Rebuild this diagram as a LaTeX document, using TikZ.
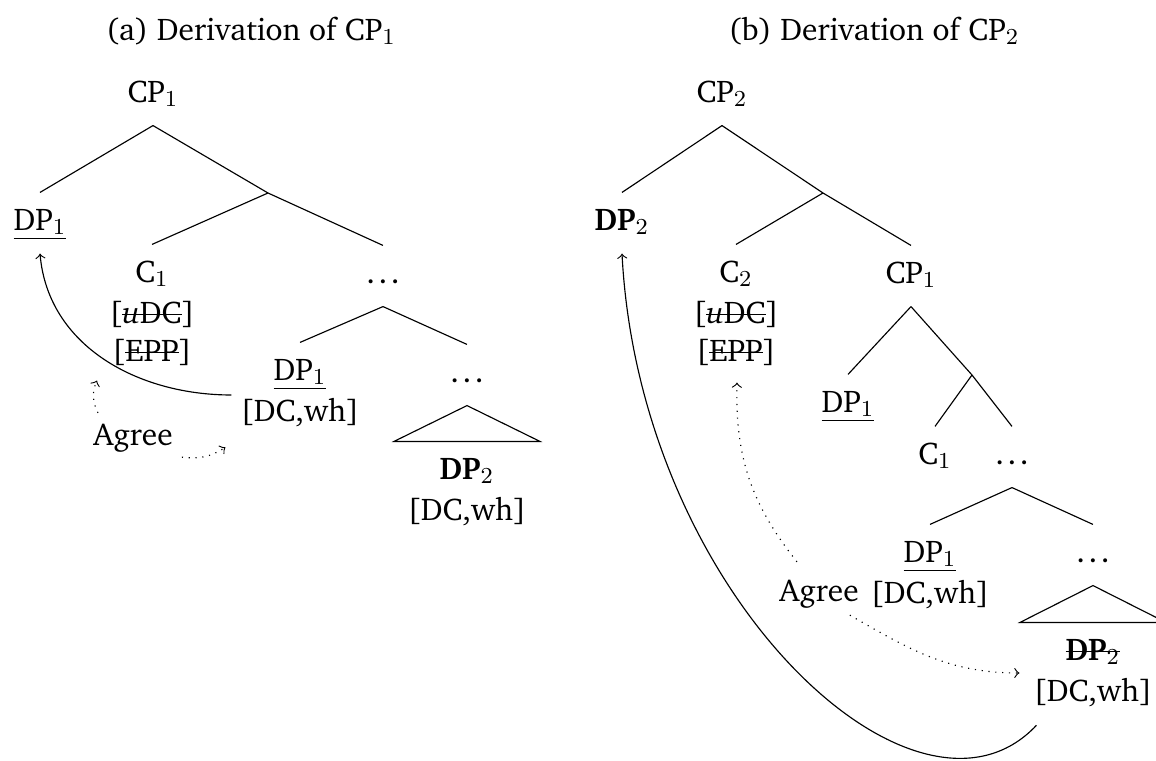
\documentclass[tikz,border=0pt]{standalone}
\usepackage[T1]{fontenc}
\usepackage{charter}
\usetikzlibrary{positioning}
\newcommand{\strk}[1]{{\setbox0=\hbox{#1}\rlap{\rule[0.55ex]{\wd0}{0.4pt}}\box0}}
\newcommand{\ddd}{.\kern1.2pt.\kern1.2pt.}
\tikzstyle{cat} = [inner xsep=2pt, inner ysep=5.5pt, text height=7.5pt, text depth=2.5pt]
\tikzstyle{feat} = [inner xsep=3pt, inner ysep=1.5pt, text height=7.5pt, text depth=2.5pt]
\tikzstyle{title} = [inner sep=0pt]
\tikzstyle{arrow} = [->]
\tikzstyle{agree} = [->, dotted]

\begin{document}
\begin{tikzpicture}[x=0.35pt, y=-0.35pt, font=\fontsize{11}{13}\selectfont]
    \useasboundingbox (0,0) rectangle (1156,761);

    % Titles
    \node[title] (ta) at (251,31) {(a) Derivation of CP$_1$};
    \node[title] (tb) at (874,31) {(b) Derivation of CP$_2$};

    % Tree (a)
    \node[cat] (lcp) at (153,95) {CP$_1$};
    \node[cat] (ldp) at (40,223) {\underline{DP$_1$}};
    \coordinate (lx) at (268,193);
    \node[cat] (lc) at (152,275) {C$_1$};
    \node[feat, below=-3pt of lc] (lfc) {[\strk{\textit{u}DC}]};
    \node[feat, below=0pt of lfc] (lepp) {[\strk{EPP}]};
    \node[cat] (ldots) at (383,276) {\ddd};
    \node[cat] (ldpb) at (300,373) {\underline{DP$_1$}};
    \node[feat, below=-3pt of ldpb] (lfb) {[DC,wh]};
    \node[cat] (ldots2) at (467,375) {\ddd};
    \node[cat] (ldp2) at (467,472) {\textbf{DP}$_2$};
    \node[feat, below=-3pt of ldp2] (lfd) {[DC,wh]};
    \node[feat] (lag) at (133,438) {Agree};

    % Branches (a)
    \draw (lcp.south) -- (ldp.north);
    \draw (lcp.south) -- (lx) -- (ldots.north);
    \draw (lx) -- (lc.north);
    \draw (ldots.south) -- (ldpb.north);
    \draw (ldots.south) -- (ldots2.north);
    \draw (ldots2.south) -- ([shift={(-73,0)}]ldp2.north) -- ([shift={(73,0)}]ldp2.north) -- cycle;

    % Movement and Agree (a)
    \draw[arrow] (lfb.north west) to[out=180, in=-85] (ldp.south);
    \draw[agree] ([shift={(-35,-6)}]lag.north) to[bend left=25] ([shift={(-55,7)}]lepp.south);
    \draw[agree] (lag.south east) to[bend right=20] ([shift={(-6,14)}]lfb.south west);

    % Tree (b)
    \node[cat] (rcp2) at (722,95) {CP$_2$};
    \node[cat] (rdp2) at (622,223) {\textbf{DP}$_2$};
    \coordinate (rx) at (823,193);
    \node[cat] (rc2) at (736,275) {C$_2$};
    \node[feat, below=-3pt of rc2] (rfc) {[\strk{\textit{u}DC}]};
    \node[feat, below=0pt of rfc] (repp) {[\strk{EPP}]};
    \node[cat] (rcp1) at (911,276) {CP$_1$};
    \node[cat] (rdp1) at (848,405) {\underline{DP$_1$}};
    \coordinate (ry) at (972,375);
    \node[cat] (rc1) at (935,457) {C$_1$};
    \node[cat] (rdots) at (1012,457) {\ddd};
    \node[cat] (rdpb) at (930,555) {\underline{DP$_1$}};
    \node[feat, below=-3pt of rdpb] (rfb) {[DC,wh]};
    \node[cat] (rdots2) at (1093,555) {\ddd};
    \node[cat] (rdp2b) at (1093,653) {\strk{\textbf{DP}$_2$}};
    \node[feat, below=-3pt of rdp2b] (rfd) {[DC,wh]};
    \node[feat] (rag) at (819,594) {Agree};

    % Branches (b)
    \draw (rcp2.south) -- (rdp2.north);
    \draw (rcp2.south) -- (rx) -- (rcp1.north);
    \draw (rx) -- (rc2.north);
    \draw (rcp1.south) -- (rdp1.north);
    \draw (rcp1.south) -- (ry) -- (rdots.north);
    \draw (ry) -- (rc1.north);
    \draw (rdots.south) -- (rdpb.north);
    \draw (rdots.south) -- (rdots2.north);
    \draw (rdots2.south) -- ([shift={(-73,0)}]rdp2b.north) -- ([shift={(73,0)}]rdp2b.north) -- cycle;

    % Movement and Agree (b)
    \draw[arrow] ([shift={(12,12)}]rfd.south west) .. controls +(-119,127) and +(18,343) .. (rdp2.south);
    \draw[agree] ([shift={(-22,-13)}]rag.north) to[bend left=20] ([shift={(1,9)}]repp.south);
    \draw[agree] ([shift={(-18,2)}]rag.south east) to[out=-30, in=180] ([shift={(-5,-2)}]rfd.north west);

\end{tikzpicture}
\end{document}
